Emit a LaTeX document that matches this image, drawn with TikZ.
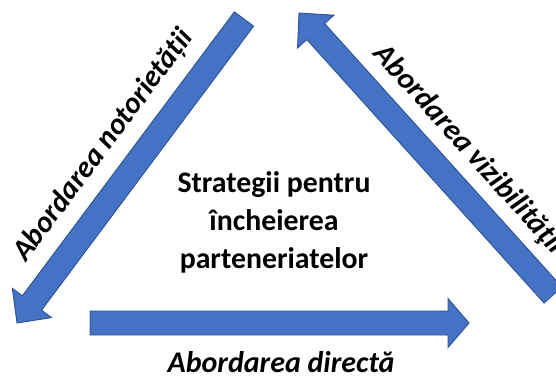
\documentclass[tikz,border=0pt]{standalone}
\usepackage{fontspec}
\setmainfont{Carlito}
\usetikzlibrary{calc}
\definecolor{arrfill}{HTML}{4472C4}
\definecolor{arrline}{HTML}{2F528F}
% #1 tail, #2 tip, #3 head length, #4 shaft half width, #5 head half width
\newcommand\blockarrowpath[5]{%
  \fill[arrfill,draw=arrline,line width=0.9pt,line join=miter]
    ($(#1)!#4pt!90:(#2)$) --
    ($($(#2)!#3pt!(#1)$)!#4pt!-90:(#1)$) --
    ($($(#2)!#3pt!(#1)$)!#5pt!-90:(#1)$) --
    (#2) --
    ($($(#2)!#3pt!(#1)$)!#5pt!90:(#1)$) --
    ($($(#2)!#3pt!(#1)$)!#4pt!90:(#1)$) --
    ($(#1)!#4pt!-90:(#2)$) -- cycle;}
\tikzset{
  lbl/.style={font=\fontsize{30}{36}\selectfont\bfseries\itshape, anchor=base, inner sep=0pt},
  ctr/.style={font=\fontsize{29.8}{36}\selectfont\bfseries, anchor=base, inner sep=0pt}
}
\begin{document}
\begin{tikzpicture}[x=1pt,y=-1pt]
\useasboundingbox (0,0) rectangle (556,378);
% arrow end points
\coordinate (lT) at (244,19);
\coordinate (lP) at (17,323);
\coordinate (bT) at (90,323);
\coordinate (bP) at (469,323);
\coordinate (rT) at (553,295);
\coordinate (rP) at (299,13);
\blockarrowpath{lT}{lP}{25}{12}{24.5}
\blockarrowpath{bT}{bP}{21}{12}{24.5}
\blockarrowpath{rT}{rP}{25}{12}{24.5}
% labels
\node[lbl, rotate=53.3] (ln) at (110,150) {Abordarea notorietății};
\node[lbl, rotate=-48] (rn) at (463,155) {Abordarea vizibilităţii};
\node[lbl] (bn) at (281,372) {Abordarea directă};
% centre text
\node[ctr] (c1) at (274,192) {Strategii pentru};
\node[ctr] (c2) at (274,230) {încheierea};
\node[ctr] (c3) at (274,268) {parteneriatelor};
\end{tikzpicture}
\end{document}
